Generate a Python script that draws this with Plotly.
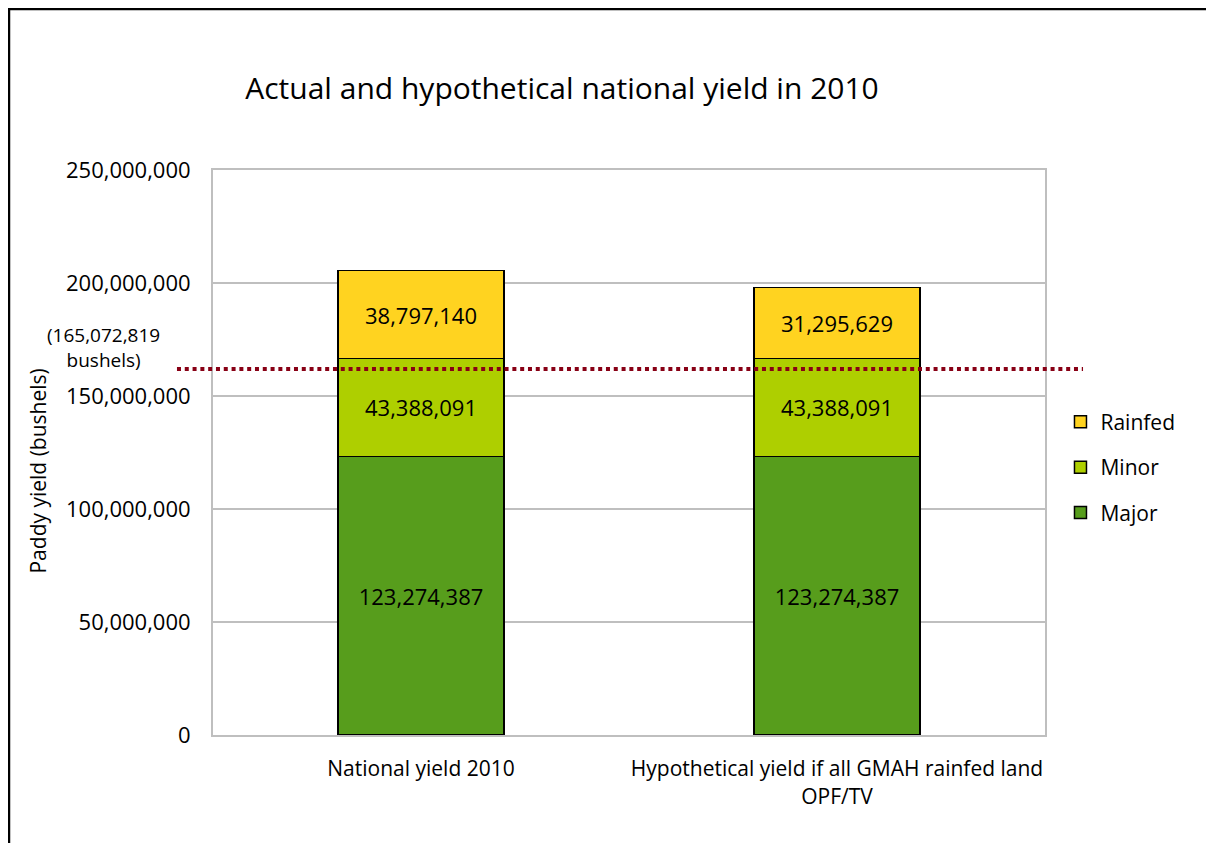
import plotly.graph_objects as go

categories = ["National yield 2010", "Hypothetical yield if all GMAH rainfed land OPF/TV"]
tick_labels = ["National yield 2010", "Hypothetical yield if all GMAH rainfed land<br>OPF/TV"]
major = [123274387, 123274387]
minor = [43388091, 43388091]
rainfed = [38797140, 31295629]
threshold_value = 162000000
threshold_label = "(165,072,819<br>bushels)"

FONT = "Open Sans"
fig = go.Figure()
series = [("Major", major, "#579D1C", 3), ("Minor", minor, "#AECF00", 2), ("Rainfed", rainfed, "#FFD320", 1)]
for name, vals, col, rank in series:
    fig.add_trace(go.Bar(
        x=categories, y=vals, name=name, legendrank=rank,
        marker=dict(color=col, line=dict(color="black", width=1.5)),
        text=[f"{v:,}" for v in vals], textposition="inside",
        insidetextanchor="middle", constraintext="none",
        textfont=dict(family=FONT, size=22, color="black"),
        legendgroup=name,
    ))

fig.add_shape(type="line", xref="paper", yref="y", x0=-0.0433, x1=1.0457,
              y0=threshold_value, y1=threshold_value,
              line=dict(color="#880015", width=4, dash="4px,3.8px"))
# outer chart border (left and top edges visible)
fig.add_shape(type="line", xref="paper", yref="paper", x0=-0.2452, x1=-0.2452, y0=-0.3, y1=1.287,
              line=dict(color="black", width=2.5))
fig.add_shape(type="line", xref="paper", yref="paper", x0=-0.2467, x1=1.3, y0=1.285, y1=1.285,
              line=dict(color="black", width=2.5))

fig.add_annotation(xref="paper", yref="paper", x=-0.1322, y=0.6858, text=threshold_label,
                   showarrow=False, xanchor="center", yanchor="middle",
                   font=dict(family=FONT, size=19, color="black"))
fig.add_annotation(xref="paper", yref="paper", x=-0.2103, y=0.4664, text="Paddy yield (bushels)",
                   textangle=-90, showarrow=False, xanchor="center", yanchor="middle",
                   font=dict(family=FONT, size=21, color="black"))

fig.update_layout(
    width=1206, height=843,
    margin=dict(l=205, r=169, t=162, b=116),
    paper_bgcolor="white", plot_bgcolor="white",
    barmode="stack", bargap=0.6,
    title=dict(text="Actual and hypothetical national yield in 2010", x=0.4195, xref="paper",
               xanchor="center", y=1 - 80 / 843, yref="container", yanchor="middle",
               font=dict(family=FONT, size=30, color="black")),
    font=dict(family=FONT, color="black"),
    legend=dict(x=1.0186, y=0.474, xanchor="left", yanchor="middle", traceorder="grouped",
                tracegroupgap=15, font=dict(family=FONT, size=21, color="black"),
                bgcolor="rgba(0,0,0,0)"),
    xaxis=dict(tickvals=categories, ticktext=tick_labels, showline=True, linecolor="#BFBFBF",
               linewidth=2, mirror=True, ticks="", tickfont=dict(family=FONT, size=21, color="black"),
               ticklabelstandoff=14),
    yaxis=dict(range=[0, 250000000], dtick=50000000, tickformat=",.0f", showgrid=True,
               gridcolor="#BFBFBF", gridwidth=2, showline=True, linecolor="#BFBFBF", linewidth=2,
               mirror=True, ticks="", tickfont=dict(family=FONT, size=22, color="black"),
               ticklabelstandoff=16, zeroline=False),
)
fig.write_html("out.html")
